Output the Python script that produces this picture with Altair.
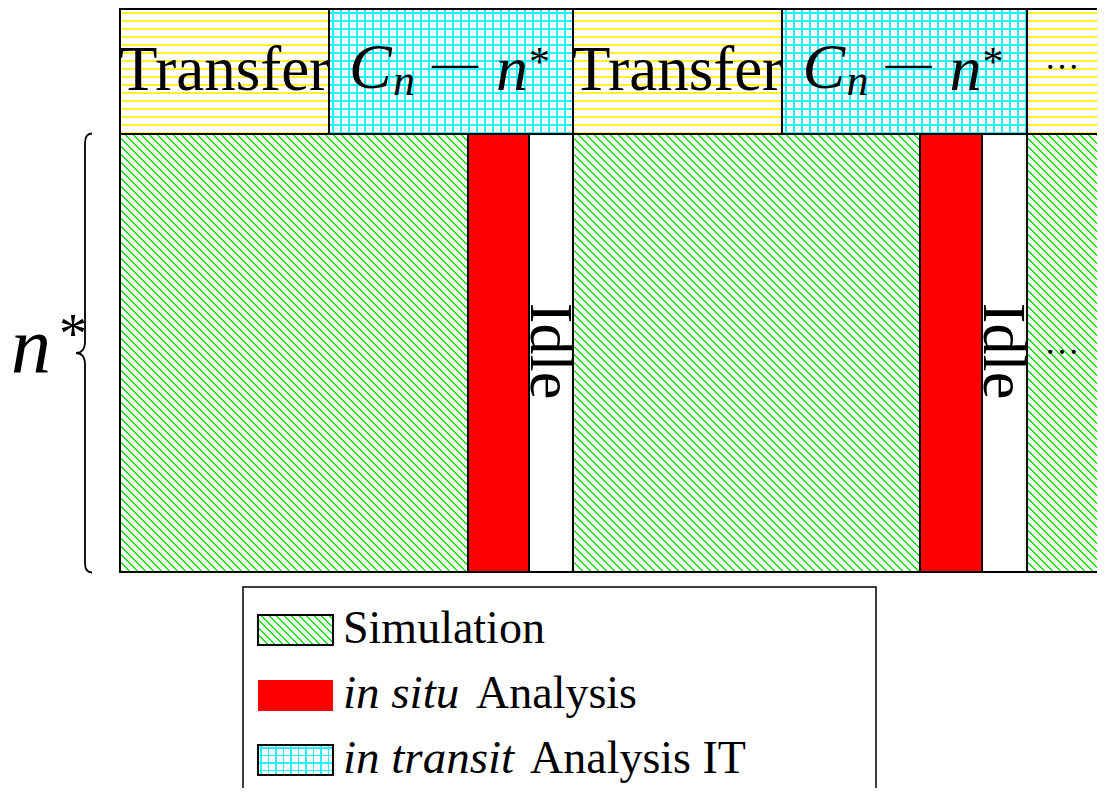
import math
import altair as alt
import pandas as pd

# ---------------- data (time axis in diagram units, 0 = start of first cycle) -------------
top_labels = ["Transfer", "C_n - n*", "Transfer", "C_n - n*", "..."]
top_kind = ["transfer", "analysis", "transfer", "analysis", "transfer"]
top_start = [0, 209, 453, 662, 907]
top_end = [209, 453, 662, 907, 990]

sim_start = [0, 453, 907]
sim_end = [348, 800, 990]
insitu_start = [348, 800]
insitu_end = [409, 862]
idle_start = [409, 862]
idle_end = [453, 907]

legend_labels = ["Simulation", "in situ Analysis", "in transit Analysis IT"]

# ---------------- layout constants (vertical units) ----------------
TOP_Y0, TOP_Y1 = 1, 126
BOT_Y0, BOT_Y1 = 126, 564
W, H = 1089, 780
xs = alt.Scale(domain=[-112, 977], nice=False, zero=False)
ys = alt.Scale(domain=[0, H], reverse=True, nice=False, zero=False)

WHITE = "#ffffff"
CLEAR = "rgba(255,255,255,0)"
GREEN = "#19e619"
YELLOW = "#fff02a"
CYAN = "#20f0ff"
RED = "#ff0000"
SERIF = "Liberation Serif"


def stripe_stops(length, period, lw, color, bg, phase):
    stops = [{"offset": 0.0, "color": bg}]
    c = phase
    while c - lw / 2 < length:
        a = max(0.0, (c - lw / 2) / length)
        b = min(1.0, (c + lw / 2) / length)
        if b > 0:
            a, b = round(a, 5), round(b, 5)
            stops += [
                {"offset": a, "color": bg},
                {"offset": a, "color": color},
                {"offset": b, "color": color},
                {"offset": b, "color": bg},
            ]
        c += period
    stops.append({"offset": 1.0, "color": bg})
    return stops


def hgrad(h, color, bg, period=8, lw=2, phase=4):
    return {"gradient": "linear", "x1": 0, "y1": 0, "x2": 0, "y2": 1,
            "stops": stripe_stops(h, period, lw, color, bg, phase)}


def vgrad(w, color, bg, period=8, lw=1.3, phase=4):
    return {"gradient": "linear", "x1": 0, "y1": 0, "x2": 1, "y2": 0,
            "stops": stripe_stops(w, period, lw, color, bg, phase)}


def dgrad(w, h, color, bg, period=8, lw=1.4):
    beta = (w + h) / (w * w + h * h)
    L = (w + h) / math.sqrt(2)
    return {"gradient": "linear", "x1": 0, "y1": 1,
            "x2": round(beta * w, 6), "y2": round(1 - beta * h, 6),
            "stops": stripe_stops(L, period / math.sqrt(2), lw, color, bg, 2)}


def boxes(starts, ends, y0, y1):
    return pd.DataFrame({"x0": starts, "x1": ends, "y0": [y0] * len(starts), "y1": [y1] * len(starts)})


def rect_layer(df, **mark):
    return alt.Chart(df).mark_rect(**mark).encode(
        x=alt.X("x0:Q", scale=xs, axis=None), x2="x1:Q",
        y=alt.Y("y0:Q", scale=ys, axis=None), y2="y1:Q")


def text_layer(df, **mark):
    return alt.Chart(df).mark_text(**mark).encode(
        x=alt.X("x:Q", scale=xs, axis=None),
        y=alt.Y("y:Q", scale=ys, axis=None),
        text="t:N")


top = pd.DataFrame({"x0": top_start, "x1": top_end, "kind": top_kind, "label": top_labels})
tr = top[top.kind == "transfer"]
an = top[top.kind == "analysis"]
tr_df = boxes(list(tr.x0), list(tr.x1), TOP_Y0, TOP_Y1)
an_df = boxes(list(an.x0), list(an.x1), TOP_Y0, TOP_Y1)
sim_df = boxes(sim_start, sim_end, BOT_Y0, BOT_Y1)
ins_df = boxes(insitu_start, insitu_end, BOT_Y0, BOT_Y1)
idle_df = boxes(idle_start, idle_end, BOT_Y0, BOT_Y1)
all_top = boxes(top_start, top_end, TOP_Y0, TOP_Y1)
all_bot = pd.concat([sim_df, ins_df, idle_df])

layers = []
# --- fills ---
layers.append(rect_layer(tr_df, fill=hgrad(TOP_Y1 - TOP_Y0, YELLOW, WHITE)))
layers.append(rect_layer(an_df, fill=hgrad(TOP_Y1 - TOP_Y0, CYAN, WHITE, lw=1.3)))
for i in range(len(an_df)):
    row = an_df.iloc[[i]]
    layers.append(rect_layer(row, fill=vgrad(float(row.x1.iloc[0] - row.x0.iloc[0]), CYAN, CLEAR)))
for i in range(len(sim_df)):
    row = sim_df.iloc[[i]]
    layers.append(rect_layer(row, fill=dgrad(float(row.x1.iloc[0] - row.x0.iloc[0]), BOT_Y1 - BOT_Y0, GREEN, WHITE)))
layers.append(rect_layer(ins_df, fill=RED))
layers.append(rect_layer(idle_df, fill=WHITE))
# --- borders ---
layers.append(rect_layer(pd.concat([all_top, all_bot]), fillOpacity=0, stroke="black", strokeWidth=2))

# --- top row labels ---
tr_lab = top[(top.kind == "transfer") & (top.label == "Transfer")]
layers.append(text_layer(pd.DataFrame({"x": (tr_lab.x0 + tr_lab.x1) / 2, "y": 82, "t": "Transfer"}),
                         font=SERIF, fontSize=63, align="center", baseline="alphabetic"))
cen = list((an.x0 + an.x1) / 2)


def piece(text, y, dx, size, style="normal", font=SERIF):
    return text_layer(pd.DataFrame({"x": cen, "y": y, "t": text}), font=font, fontSize=size,
                      fontStyle=style, align="left", baseline="alphabetic", dx=dx)


layers.append(piece("C", 80, -102, 64, "italic"))
layers.append(piece("n", 87, -58, 44, "italic"))
layers.append(piece("\u2014", 70, -19, 46))
layers.append(piece("n", 82, 45, 64, "italic"))
layers.append(piece("*", 68, 78, 42))

# ellipses
ell = top[top.label == "..."]
ex = list((ell.x0 + 1097 - 120) / 2)
layers.append(text_layer(pd.DataFrame({"x": ex * 2, "y": [61, 346], "t": "\u2026"}),
                         font=SERIF, fontSize=35, align="center", baseline="alphabetic"))

# Idle labels
layers.append(text_layer(pd.DataFrame({"x": [s + 2 for s in idle_start], "y": 343, "t": "Idle"}),
                         font=SERIF, fontSize=62, align="center", baseline="alphabetic", angle=90))

# brace + n*
brace_path = ("M 0.0319 -1 Q 0 -1 0 -0.9567 L 0 -0.0547 Q 0 0 -0.041 0 "
              "Q 0 0 0 0.0547 L 0 0.9567 Q 0 1 0.0319 1")
layers.append(alt.Chart(pd.DataFrame({"x": [-35], "y": [(BOT_Y0 + BOT_Y1) / 2]})).mark_point(
    shape=brace_path, size=(BOT_Y1 - BOT_Y0 + 1) ** 2, filled=False, stroke="black",
    strokeWidth=1.8, opacity=1).encode(
    x=alt.X("x:Q", scale=xs, axis=None), y=alt.Y("y:Q", scale=ys, axis=None)))
layers.append(text_layer(pd.DataFrame({"x": [-109], "y": [364], "t": ["n"]}),
                         font=SERIF, fontSize=80, fontStyle="italic", align="left", baseline="alphabetic"))
layers.append(text_layer(pd.DataFrame({"x": [-61], "y": [345], "t": ["*"]}),
                         font=SERIF, fontSize=56, align="left", baseline="alphabetic"))

# --- legend ---
layers.append(rect_layer(boxes([123], [756], 579, 900), fill=WHITE, stroke="black", strokeWidth=1.5))
sw = [(607, 637), (672, 703), (737, 767)]
layers.append(rect_layer(boxes([138], [213], *sw[0]), fill=dgrad(75, 30, GREEN, WHITE, period=7.5, lw=1.3)))
layers.append(rect_layer(boxes([138], [213], *sw[1]), fill=RED))
layers.append(rect_layer(boxes([138], [213], *sw[2]), fill=hgrad(30, CYAN, WHITE, period=7.5, lw=1.3, phase=3)))
layers.append(rect_layer(boxes([138], [213], *sw[2]), fill=vgrad(75, CYAN, CLEAR, period=7.5, lw=1.3, phase=3)))
layers.append(rect_layer(pd.concat([boxes([138], [213], *sw[0]), boxes([138], [213], *sw[2])]),
                         fillOpacity=0, stroke="black", strokeWidth=2))

ital = [legend_labels[1].split(" Analysis")[0], legend_labels[2].split(" Analysis")[0]]
layers.append(text_layer(pd.DataFrame({"x": [223], "y": [635], "t": [legend_labels[0]]}),
                         font=SERIF, fontSize=46, align="left", baseline="alphabetic"))
layers.append(text_layer(pd.DataFrame({"x": [223, 223], "y": [700, 765], "t": ital}),
                         font=SERIF, fontSize=47, fontStyle="italic", align="left", baseline="alphabetic"))
rom = ["Analysis", "Analysis IT"]
layers.append(text_layer(pd.DataFrame({"x": [356, 410], "y": [700, 765], "t": rom}),
                         font=SERIF, fontSize=46, align="left", baseline="alphabetic"))

chart = alt.layer(*layers).properties(
    width=W, height=H, padding=0, autosize=alt.AutoSizeParams(type="none"), background="white"
).configure_view(strokeWidth=0)

chart.save("out.html", embed_options={"renderer": "svg", "actions": False})
